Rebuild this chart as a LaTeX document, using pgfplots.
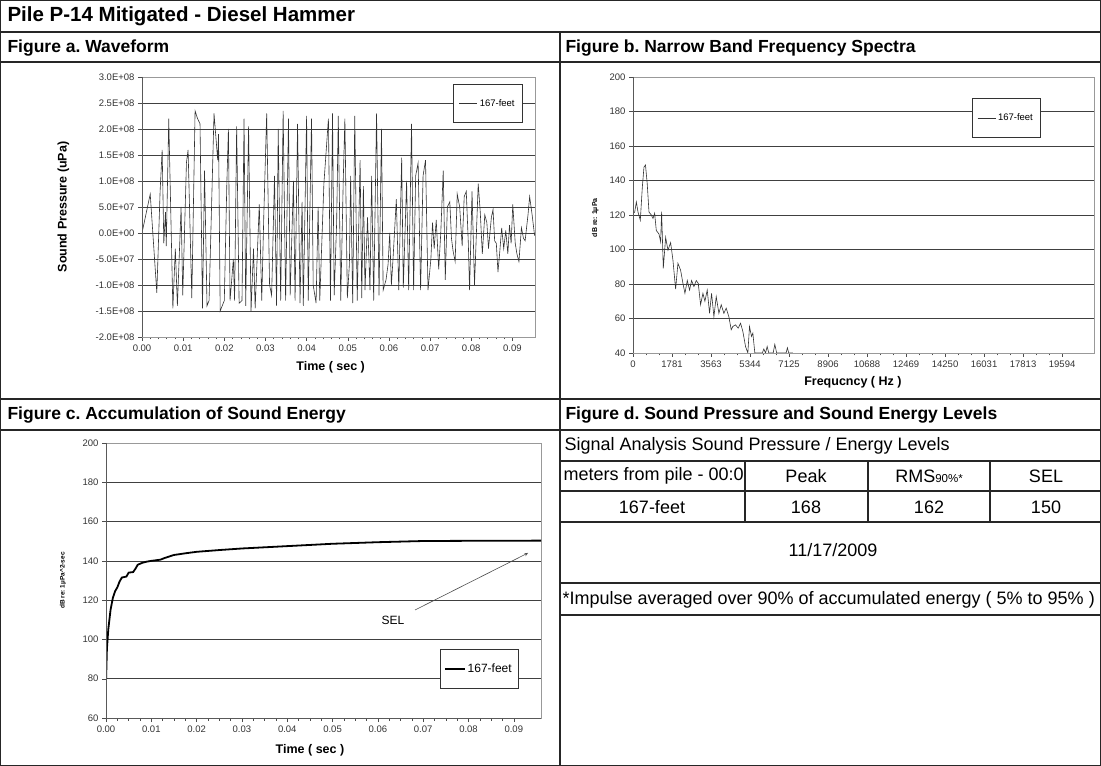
\documentclass[border=0pt]{standalone}
\usepackage{fontspec}
\setmainfont{Liberation Sans}
\usepackage{pgfplots}
\pgfplotsset{compat=1.18}
\frenchspacing

\pgfplotsset{
  xl/.style={
    scale only axis,
    axis line style={black!40},
    tick align=outside, xtick pos=left, ytick pos=left,
    major tick length=4pt, minor tick length=2.5pt,
    every tick/.style={black!70},
    ymajorgrids, grid style={black!75, line width=0.6pt},
    tick label style={font=\fontsize{9.5}{11}\selectfont, text=black!80},
    /pgf/number format/assume math mode=true,
    scaled x ticks=false, scaled y ticks=false,
    legend image code/.code={\draw[##1] (0pt,0pt) -- (18pt,0pt);},
    legend style={draw=black!80, fill=white, cells={anchor=west}},
  },
}

\begin{document}
\begin{tikzpicture}[x=1pt,y=1pt]
\useasboundingbox (0,0) rectangle (1101,766);

% frame
\begin{scope}[black!85, line width=1.1pt]
\draw (0.6,0.6) rectangle (1100.4,765.4);
\draw (0,734) -- (1101,734);
\draw (0,704) -- (1101,704);
\draw (0,367) -- (1101,367);
\draw (0,336) -- (1101,336);
\draw (560,734) -- (560,0);
\draw (560,305) -- (1101,305);
\draw (560,275) -- (1101,275);
\draw (560,244) -- (1101,244);
\draw (560,183) -- (1101,183);
\draw (560,151) -- (1101,151);
\draw (745,305) -- (745,244);
\draw (868,305) -- (868,244);
\draw (990,305) -- (990,244);
\end{scope}

% headings
\node[anchor=west, font=\bfseries\fontsize{20.5}{22}\selectfont] at (4,750) {Pile P-14 Mitigated - Diesel Hammer};
\node[anchor=west, font=\bfseries\fontsize{17.5}{19}\selectfont] at (4,718) {Figure a. Waveform};
\node[anchor=west, font=\bfseries\fontsize{17.5}{19}\selectfont] at (562,718) {Figure b. Narrow Band Frequency Spectra};
\node[anchor=west, font=\bfseries\fontsize{17.5}{19}\selectfont] at (4,351) {Figure c. Accumulation of Sound Energy};
\node[anchor=west, font=\bfseries\fontsize{17.5}{19}\selectfont] at (562,351) {Figure d. Sound Pressure and Sound Energy Levels};

% table d
\begin{scope}[font=\fontsize{18}{20}\selectfont]
\node[anchor=west] at (561,320) {Signal Analysis Sound Pressure / Energy Levels};
\node[anchor=west] at (560,290) {meters from pile - 00:0};
\node at (806,290) {Peak};
\node at (929,290) {RMS{\fontsize{11.5}{13}\selectfont 90\%*}};
\node at (1046,290) {SEL};
\node at (652,259) {167-feet};
\node at (806,259) {168};
\node at (929,259) {162};
\node at (1046,259) {150};
\node at (833,216) {11/17/2009};
\node[anchor=west] at (559,166) {*Impulse averaged over 90\% of accumulated energy ( 5\% to 95\% )};
\end{scope}

% Figure a
\begin{axis}[xl,
  at={(142pt,429pt)}, anchor=south west, width=393pt, height=260pt,
  xmin=0, xmax=0.0955, ymin=-2, ymax=3,
  xtick={0,0.01,0.02,0.03,0.04,0.05,0.06,0.07,0.08,0.09},
  xticklabels={0.00,0.01,0.02,0.03,0.04,0.05,0.06,0.07,0.08,0.09},
  minor x tick num=4,
  ytick={-2,-1.5,-1,-0.5,0,0.5,1,1.5,2,2.5,3},
  yticklabels={-2.0E+08,-1.5E+08,-1.0E+08,-5.0E+07,0.0E+00,5.0E+07,1.0E+08,1.5E+08,2.0E+08,2.5E+08,3.0E+08},
  tick label style={font=\fontsize{9.5}{11}\selectfont},
  xlabel={Time ( sec )}, ylabel={Sound Pressure (uPa)},
  xlabel style={font=\bfseries\fontsize{12.5}{14}\selectfont, at={(axis description cs:0.48,-0.115)}, anchor=center},
  ylabel style={font=\bfseries\fontsize{12.5}{14}\selectfont, at={(axis description cs:-0.2,0.5)}, anchor=center},
  legend style={at={(0.969,0.973)}, anchor=north east, font=\fontsize{9.5}{11}\selectfont, inner xsep=6pt, inner ysep=13pt},
]
\addplot[black!80, line width=0.6pt] coordinates {
(0.0000,0) (0.0020,0.75) (0.0036,-1.15) (0.0044,0.8) (0.0049,1.6) (0.0053,-0.2) (0.0057,0.4) (0.0059,-0.25)
(0.0065,2.2) (0.0075,-1.45) (0.0081,-0.3) (0.0086,-1.4) (0.0095,0.5) (0.0099,-1.2) (0.0108,1.35) (0.0112,1.6)
(0.0121,-1.25) (0.0129,2.35) (0.0135,2.2) (0.0141,2.1) (0.0147,-1.45) (0.0152,1.2) (0.0158,-1.4) (0.0163,-1.3)
(0.0175,2.3) (0.0184,1.4) (0.0186,1.9) (0.0190,-1.5) (0.0200,-1.3) (0.0206,0.9) (0.0210,2.0) (0.0214,-1.3)
(0.0222,-0.5) (0.0225,-1.3) (0.0230,2.05) (0.0236,-1.35) (0.0243,-1.3) (0.0248,2.2) (0.0252,-1.4) (0.0259,2.05)
(0.0265,-1.5) (0.0271,-0.3) (0.0275,-1.45) (0.0285,0.55) (0.0291,-1.3) (0.0296,0.35) (0.0303,2.3) (0.0310,-1.0)
(0.0315,-1.2) (0.0322,1.1) (0.0327,-1.4) (0.0331,2.0) (0.0337,-1.3) (0.0343,2.35) (0.0349,-1.3) (0.0356,2.2)
(0.0360,-1.2) (0.0368,1.0) (0.0372,-1.3) (0.0378,2.1) (0.0384,-1.35) (0.0389,0.6) (0.0392,-1.4) (0.0400,2.25)
(0.0404,-1.3) (0.0412,2.2) (0.0416,-1.0) (0.0423,-1.35) (0.0428,0.5) (0.0432,-1.3) (0.0442,0.95) (0.0446,1.4)
(0.0453,2.2) (0.0458,-1.3) (0.0463,2.3) (0.0467,-1.2) (0.0473,0.2) (0.0477,2.25) (0.0483,-1.3) (0.0489,1.0)
(0.0493,2.2) (0.0499,-1.25) (0.0504,-0.6) (0.0507,1.1) (0.0512,-1.35) (0.0517,2.25) (0.0523,-1.3) (0.0530,1.4)
(0.0534,-1.25) (0.0538,0.9) (0.0542,-1.1) (0.0548,0.3) (0.0554,-1.1) (0.0558,1.1) (0.0563,-1.3) (0.0570,2.3)
(0.0576,-1.2) (0.0582,2.0) (0.0586,-1.1) (0.0593,-0.9) (0.0598,-0.6) (0.0602,0.0) (0.0606,-1.0) (0.0610,-0.5)
(0.0618,0.65) (0.0624,-1.1) (0.0631,1.45) (0.0635,-1.05) (0.0643,1.0) (0.0648,-1.1) (0.0655,2.1) (0.0660,-1.1)
(0.0665,1.1) (0.0671,1.35) (0.0677,-1.1) (0.0683,1.1) (0.0689,1.4) (0.0695,-1.1) (0.0702,-0.5) (0.0706,0.2)
(0.0710,-0.3) (0.0715,0.25) (0.0721,-0.7) (0.0726,0.0) (0.0732,1.2) (0.0737,-0.9) (0.0742,0.5) (0.0748,0.6)
(0.0752,-0.1) (0.0756,-0.35) (0.0761,-0.55) (0.0766,0.75) (0.0772,0.5) (0.0778,-0.25) (0.0783,0.7) (0.0788,0.8)
(0.0793,-0.2) (0.0796,-1.1) (0.0802,0.8) (0.0808,-1.0) (0.0817,0.95) (0.0822,0.4) (0.0827,-0.4) (0.0833,0.35)
(0.0838,0.2) (0.0842,-0.3) (0.0849,0.3) (0.0853,0.45) (0.0857,-0.15) (0.0861,-0.2) (0.0865,-0.75) (0.0869,-0.4)
(0.0874,0.1) (0.0879,-0.3) (0.0884,0.05) (0.0889,-0.4) (0.0893,0.15) (0.0897,-0.2) (0.0901,0.55) (0.0907,-0.2)
(0.0911,-0.4) (0.0916,-0.55) (0.0922,0.1) (0.0927,-0.1) (0.0931,-0.15) (0.0938,0.35) (0.0942,0.7) (0.0948,0.35)
(0.0954,-0.05)
};
\addlegendentry{167-feet}
\draw[black!65, line width=0.7pt] (rel axis cs:0,1) -- (rel axis cs:0,0) -- (rel axis cs:1,0);
\end{axis}

% Figure b
\begin{axis}[xl,
  at={(633pt,413pt)}, anchor=south west, width=461pt, height=276pt,
  xmin=0, xmax=21050, ymin=40, ymax=200,
  xtick={0,1781.25,3562.5,5343.75,7125,8906.25,10687.5,12468.75,14250,16031.25,17812.5,19593.75},
  xticklabels={0,1781,3563,5344,7125,8906,10688,12469,14250,16031,17813,19594},
  minor x tick num=2,
  ytick={40,60,80,100,120,140,160,180,200},
  xlabel={Frequcncy ( Hz )}, ylabel={dB re: 1µPa},
  xlabel style={font=\bfseries\fontsize{12.5}{14}\selectfont, at={(axis description cs:0.477,-0.105)}, anchor=center},
  ylabel style={font=\bfseries\fontsize{7}{8}\selectfont, at={(axis description cs:-0.082,0.49)}, anchor=center},
  legend style={at={(0.883,0.924)}, anchor=north east, font=\fontsize{9.5}{11}\selectfont, inner xsep=5pt, inner ysep=13.5pt},
]
\addplot[black!80, line width=0.6pt] coordinates {
(0,120.8) (77,121.7) (152,127.5) (228,121.7) (334,117) (425,136) (500,147.7) (570,149) (650,138) (730,121.7)
(836,120) (912,118) (988,121) (1064,111) (1186,109) (1262,104.4) (1307,122) (1383,89) (1490,107) (1596,99.6)
(1718,104) (1824,93.8) (1946,77) (2052,92) (2174,88) (2280,80.4) (2371,74.6) (2478,82) (2584,76.5) (2675,82)
(2782,78.5) (2888,82) (2979,80.4) (3086,68) (3192,74.6) (3283,70) (3390,76.5) (3496,63) (3587,74.6) (3694,61)
(3800,72.7) (3922,63) (4028,68) (4150,63) (4256,66) (4378,61) (4484,53.5) (4560,55.4) (4682,56.3) (4803,54.4)
(4910,57.3) (5016,52.5) (5138,43.8) (5244,40) (5320,55.4) (5411,49.6) (5472,51.5) (5563,40) (5900,40) (5974,42.3)
(6050,40) (6126,43.8) (6200,40) (6400,40) (6475,45) (6560,40) (6990,40) (7050,43) (7110,40) (7300,40)
};
\addlegendentry{167-feet}
\draw[black!65, line width=0.7pt] (rel axis cs:0,1) -- (rel axis cs:0,0) -- (rel axis cs:1,0);
\end{axis}

% Figure c
\begin{axis}[xl,
  at={(106pt,48pt)}, anchor=south west, width=435pt, height=275pt,
  xmin=0, xmax=0.096, ymin=60, ymax=200,
  xtick={0,0.01,0.02,0.03,0.04,0.05,0.06,0.07,0.08,0.09},
  xticklabels={0.00,0.01,0.02,0.03,0.04,0.05,0.06,0.07,0.08,0.09},
  minor x tick num=3,
  ytick={60,80,100,120,140,160,180,200},
  xlabel={Time ( sec )}, ylabel={dB re: 1µPa\^{}2-sec},
  xlabel style={font=\bfseries\fontsize{12.5}{14}\selectfont, at={(axis description cs:0.469,-0.116)}, anchor=center},
  ylabel style={font=\bfseries\fontsize{6.5}{7}\selectfont, at={(axis description cs:-0.099,0.5)}, anchor=center},
  legend image code/.code={\draw[#1] (0pt,0pt) -- (20pt,0pt);},
  legend style={at={(0.947,0.109)}, anchor=south east, font=\fontsize{12}{13}\selectfont, inner xsep=4pt, inner ysep=12pt},
]
\addplot[black, line width=1.8pt] coordinates {
(0,78) (0.0002,95) (0.0005,105) (0.001,115) (0.0015,121) (0.002,124.5) (0.0025,126.5) (0.003,129.5)
(0.0035,131.5) (0.0045,132) (0.005,134) (0.006,134.3) (0.0065,136) (0.007,138) (0.008,139) (0.009,139.6)
(0.01,140) (0.012,140.6) (0.013,141.5) (0.015,143) (0.018,144) (0.02,144.6) (0.025,145.5) (0.03,146.3)
(0.035,146.9) (0.04,147.5) (0.045,148.1) (0.05,148.7) (0.055,149.1) (0.06,149.5) (0.065,149.8) (0.07,150.1)
(0.08,150.2) (0.096,150.3)
};
\addlegendentry{167-feet}
\draw[black!65, line width=0.7pt] (rel axis cs:0,1) -- (rel axis cs:0,0) -- (rel axis cs:1,0);
\end{axis}

% SEL annotation
\node[font=\fontsize{12}{14}\selectfont] at (393,146) {SEL};
\draw[-stealth, black!70, line width=0.6pt] (415,156) -- (528,213);

\end{tikzpicture}
\end{document}
